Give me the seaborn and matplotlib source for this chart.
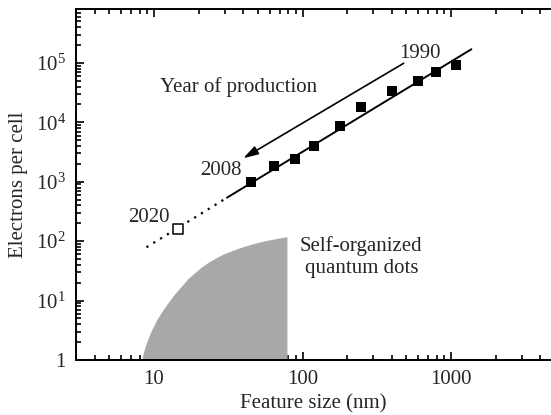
import math
import matplotlib
matplotlib.use("Agg")
import matplotlib.pyplot as plt
import seaborn as sns
import pandas as pd
from matplotlib.ticker import LogLocator, FuncFormatter, NullFormatter, FixedLocator

# DRAM generations: feature size vs. stored electrons per cell
feature_nm = [45, 64, 89, 119, 179, 249, 402, 600, 793, 1087]
electrons = [1000, 1820, 2390, 3980, 8750, 18000, 34000, 49000, 70000, 94000]

# Trend line and its extrapolation
trend_solid_x = [31, 1370]
trend_solid_y = [540, 170000]
trend_dotted_x = [8.9, 31]
trend_dotted_y = [79, 540]

# Projected 2020 node
projection_x = [14.4]
projection_y = [158]

# Envelope of self-organized quantum dots
qd_size = [8.26, 8.47, 8.69, 9.40, 9.89, 10.4, 11.1, 11.9, 12.8, 13.9, 15.4,
           17.0, 18.9, 21.0, 23.2, 25.8, 29.3, 33.4, 38.0, 43.3, 49.3, 56.1,
           65.5, 78.5]
qd_electrons = [1, 1.30, 1.67, 2.81, 3.64, 4.71, 6.11, 7.89, 10.2, 13.3, 17.8,
                23.7, 29.9, 37.2, 44.2, 51.5, 60.9, 69.2, 77.8, 86.3, 94.4, 102,
                110, 119]

x_ticks = [10, 100, 1000]
y_ticks = [1, 10, 100, 1000, 10000, 100000]

sns.set_theme(style="ticks")
plt.rcParams["font.family"] = ["Liberation Serif", "DejaVu Serif"]
plt.rcParams["mathtext.default"] = "regular"
plt.rcParams["font.size"] = 15

fig = plt.figure(figsize=(5.51, 4.15), dpi=100)
ax = fig.add_axes([0.1374, 0.1325, 1 - 0.1374, 0.9776 - 0.1325])

ax.set_xscale("log")
ax.set_yscale("log")
ax.set_xlim(2.97, 4710)
ax.set_ylim(1, 8.0e5)

ax.fill_between(qd_size, 1, qd_electrons, color="#a8a8a8", linewidth=0, zorder=1)

sns.lineplot(x=trend_solid_x, y=trend_solid_y, ax=ax, color="black",
             linewidth=1.4, zorder=2)
sns.lineplot(x=trend_dotted_x, y=trend_dotted_y, ax=ax, color="black",
             linewidth=1.6, linestyle=(0, (1, 2.6)), zorder=2)

df = pd.DataFrame({"size": feature_nm, "electrons": electrons})
sns.scatterplot(data=df, x="size", y="electrons", ax=ax, marker="s", s=62,
                color="black", edgecolor="black", linewidth=0, zorder=3)
sns.scatterplot(x=projection_x, y=projection_y, ax=ax, marker="s", s=42,
                facecolor="white", edgecolor="black", linewidth=1.1, zorder=3)

ax.annotate("", xy=(39.9, 2490), xytext=(480, 98900),
            arrowprops=dict(arrowstyle="-|>,head_length=0.6,head_width=0.18",
                            color="black", lw=1.2, shrinkA=0, shrinkB=0,
                            mutation_scale=15))

ax.text(621, 145600, "1990", ha="center", va="center")
ax.text(28.3, 1537, "2008", ha="center", va="center")
ax.text(9.25, 250, "2020", ha="center", va="center")
ax.text(10.9, 39000, "Year of production", ha="left", va="center")
ax.text(249, 53.6, "Self-organized\nquantum dots", ha="center", va="center",
        linespacing=1.25)

ax.set_xlabel("Feature size (nm)", fontsize=15, labelpad=4)
ax.set_ylabel("Electrons per cell", fontsize=15, labelpad=6)

ax.xaxis.set_major_locator(FixedLocator(x_ticks))
ax.xaxis.set_minor_locator(LogLocator(base=10, subs=range(2, 10), numticks=20))
ax.xaxis.set_major_formatter(FuncFormatter(lambda v, p: f"{v:g}"))
ax.xaxis.set_minor_formatter(NullFormatter())

ax.yaxis.set_major_locator(FixedLocator(y_ticks))
ax.yaxis.set_minor_locator(LogLocator(base=10, subs=range(2, 10), numticks=20))


def y_label(v, pos):
    if v == 1:
        return "1"
    return r"$\mathregular{10^{%d}}$" % round(math.log10(v))


ax.yaxis.set_major_formatter(FuncFormatter(y_label))
ax.yaxis.set_minor_formatter(NullFormatter())

ax.tick_params(which="both", direction="in", top=True, right=False,
               labelsize=15, color="black", width=1.2)
ax.tick_params(which="major", length=6, pad=7)
ax.tick_params(which="minor", length=3.5)

for side in ["left", "bottom", "top"]:
    ax.spines[side].set_linewidth(1.4)
    ax.spines[side].set_color("black")
ax.spines["right"].set_visible(False)

fig.savefig("out.png", dpi=100)
